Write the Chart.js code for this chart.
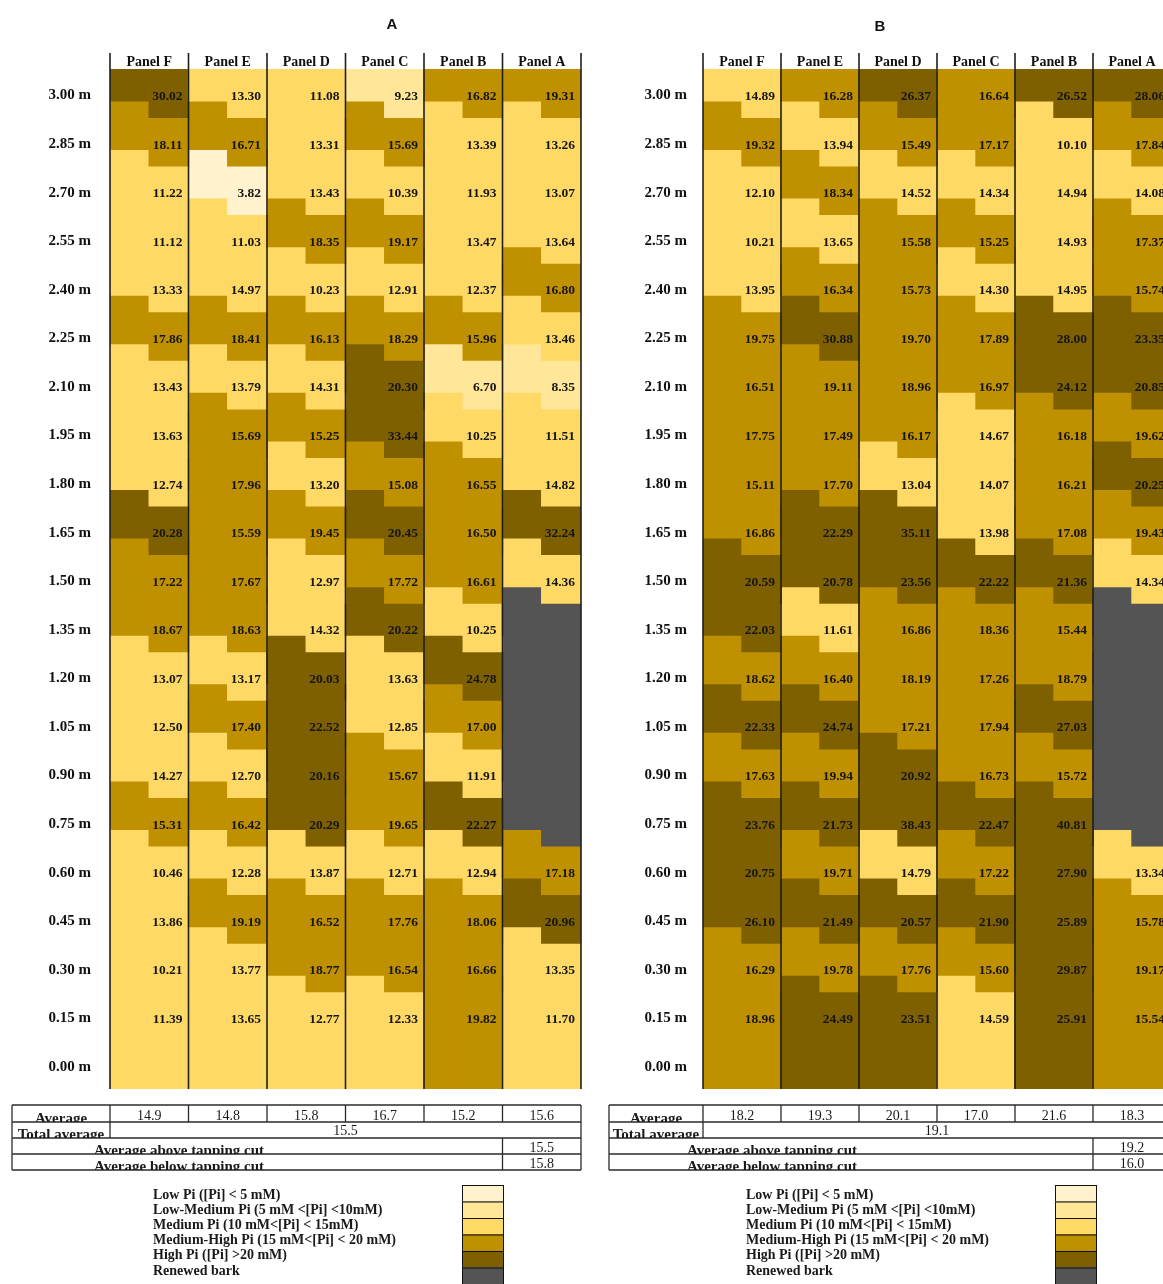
<!DOCTYPE html>
<html><head><meta charset="utf-8">
<script src="https://cdn.jsdelivr.net/npm/chart.js@4/dist/chart.umd.min.js"></script>
<style>
html,body{margin:0;padding:0;background:#fff;overflow:hidden;width:1163px;height:1284px;}
#wrap{position:relative;width:1163px;height:1284px;overflow:hidden;background:#fff;}
.cv{position:absolute;top:0;width:600px;height:1284px;}
</style></head><body>
<div id="wrap">
<div class="cv" style="left:0px"><canvas id="cA" width="600" height="1284"></canvas></div>
<div class="cv" style="left:600px"><canvas id="cB" width="600" height="1284"></canvas></div>
</div>
<script>
// ---------- categories / labels ----------
const panels = ['Panel F','Panel E','Panel D','Panel C','Panel B','Panel A'];
const heights = [3.00,2.85,2.70,2.55,2.40,2.25,2.10,1.95,1.80,1.65,1.50,1.35,1.20,1.05,0.90,0.75,0.60,0.45,0.30,0.15];
const tickHeights = [3.00,2.85,2.70,2.55,2.40,2.25,2.10,1.95,1.80,1.65,1.50,1.35,1.20,1.05,0.90,0.75,0.60,0.45,0.30,0.15,0.00];
const heightLabels = ['3.00 m','2.85 m','2.70 m','2.55 m','2.40 m','2.25 m','2.10 m','1.95 m','1.80 m','1.65 m','1.50 m','1.35 m','1.20 m','1.05 m','0.90 m','0.75 m','0.60 m','0.45 m','0.30 m','0.15 m','0.00 m'];
const legendLabels = ['Low Pi ([Pi] < 5 mM)','Low-Medium Pi (5 mM <[Pi] <10mM)','Medium Pi (10 mM<[Pi] < 15mM)','Medium-High Pi (15 mM<[Pi] < 20 mM)','High Pi ([Pi] >20 mM)','Renewed bark'];
const legendLabelsB = ['Low Pi ([Pi] < 5 mM)','Low-Medium Pi (5 mM <[Pi] <10mM)','Medium Pi (10 mM<[Pi] < 15mM)','Medium-High Pi (15 mM<[Pi] < 20 mM)','High Pi ([Pi] >20 mM)','Renewed bark'];

// ---------- chart A values (top 3.00 m -> bottom 0.15 m), null = renewed bark ----------
const A_panelF = [30.02,18.11,11.22,11.12,13.33,17.86,13.43,13.63,12.74,20.28,17.22,18.67,13.07,12.50,14.27,15.31,10.46,13.86,10.21,11.39];
const A_panelE = [13.30,16.71,3.82,11.03,14.97,18.41,13.79,15.69,17.96,15.59,17.67,18.63,13.17,17.40,12.70,16.42,12.28,19.19,13.77,13.65];
const A_panelD = [11.08,13.31,13.43,18.35,10.23,16.13,14.31,15.25,13.20,19.45,12.97,14.32,20.03,22.52,20.16,20.29,13.87,16.52,18.77,12.77];
const A_panelC = [9.23,15.69,10.39,19.17,12.91,18.29,20.30,33.44,15.08,20.45,17.72,20.22,13.63,12.85,15.67,19.65,12.71,17.76,16.54,12.33];
const A_panelB = [16.82,13.39,11.93,13.47,12.37,15.96,6.70,10.25,16.55,16.50,16.61,10.25,24.78,17.00,11.91,22.27,12.94,18.06,16.66,19.82];
const A_panelA = [19.31,13.26,13.07,13.64,16.80,13.46,8.35,11.51,14.82,32.24,14.36,null,null,null,null,null,17.18,20.96,13.35,11.70];
const A_avg = [14.9,14.8,15.8,16.7,15.2,15.6];
const A_total = 15.5, A_above = 15.5, A_below = 15.8;

// ---------- chart B values ----------
const B_panelF = [14.89,19.32,12.10,10.21,13.95,19.75,16.51,17.75,15.11,16.86,20.59,22.03,18.62,22.33,17.63,23.76,20.75,26.10,16.29,18.96];
const B_panelE = [16.28,13.94,18.34,13.65,16.34,30.88,19.11,17.49,17.70,22.29,20.78,11.61,16.40,24.74,19.94,21.73,19.71,21.49,19.78,24.49];
const B_panelD = [26.37,15.49,14.52,15.58,15.73,19.70,18.96,16.17,13.04,35.11,23.56,16.86,18.19,17.21,20.92,38.43,14.79,20.57,17.76,23.51];
const B_panelC = [16.64,17.17,14.34,15.25,14.30,17.89,16.97,14.67,14.07,13.98,22.22,18.36,17.26,17.94,16.73,22.47,17.22,21.90,15.60,14.59];
const B_panelB = [26.52,10.10,14.94,14.93,14.95,28.00,24.12,16.18,16.21,17.08,21.36,15.44,18.79,27.03,15.72,40.81,27.90,25.89,29.87,25.91];
const B_panelA = [28.06,17.84,14.08,17.37,15.74,23.35,20.85,19.62,20.25,19.43,14.34,null,null,null,null,null,13.34,15.78,19.17,15.54];
const B_avg = [18.2,19.3,20.1,17.0,21.6,18.3];
const B_total = 19.1, B_above = 19.2, B_below = 16.0;

// ---------- styles ----------
const COLORS = ['#FFF2CC','#FFE699','#FFD966','#BF9000','#7F6000','#545454'];
function colorFor(v){
  if (v === null) return COLORS[5];
  if (v < 5) return COLORS[0];
  if (v < 10) return COLORS[1];
  if (v < 15) return COLORS[2];
  if (v < 20) return COLORS[3];
  return COLORS[4];
}
const Y_MIN = -0.068, Y_MAX = 3.082;
const LEFT_OFF = [-0.016, 0.134], RIGHT_OFF = [-0.067, 0.083];
const SERIF = '"Liberation Serif", "Times New Roman", serif';

function buildDatasets(cols){
  return heights.map((h, r) => {
    const last = r === heights.length - 1;
    const data = [], bg = [];
    cols.forEach((col, c) => {
      [LEFT_OFF, RIGHT_OFF].forEach((off, k) => {
        data.push({x: 2*c + k + 0.5, y: [last ? Y_MIN : h + off[0], Math.min(Y_MAX, h + off[1])]});
        bg.push(colorFor(col[r]));
      });
    });
    return {label: heightLabels[r], data, backgroundColor: bg, borderWidth: 0, inflateAmount: 0.7,
            grouped: false, barPercentage: 1, categoryPercentage: 1};
  });
}

function makePlugin(cfg){
  return {
    id: 'decor' + cfg.title,
    afterDatasetsDraw(chart){
      const {ctx, chartArea: a, scales: {x: xs, y: ys}} = chart;
      ctx.save();
      ctx.font = 'bold 13.5px ' + SERIF;
      ctx.fillStyle = '#161616'; ctx.textAlign = 'right'; ctx.textBaseline = 'middle';
      cfg.cols.forEach((col, c) => {
        const xr = xs.getPixelForValue(2*c + 2) - 6;
        col.forEach((v, r) => {
          if (v === null) return;
          ctx.fillText(v.toFixed(2), xr, ys.getPixelForValue(heights[r]) + 1);
        });
      });
      ctx.strokeStyle = '#1e1e1e'; ctx.lineWidth = 1.6;
      for (let i = 0; i <= 6; i++){
        const x = xs.getPixelForValue(2*i);
        ctx.beginPath(); ctx.moveTo(x, a.top - 16); ctx.lineTo(x, a.bottom); ctx.stroke();
      }
      ctx.restore();
    },
    afterDraw(chart){
      const {ctx, scales: {x: xs}} = chart;
      const L = cfg.layout;
      const off = L.canvasLeft;
      ctx.save();
      // title
      ctx.font = 'bold 15px "Liberation Sans", Arial, sans-serif';
      ctx.fillStyle = '#111'; ctx.textAlign = 'center'; ctx.textBaseline = 'middle';
      ctx.fillText(cfg.title, L.titleX - off, L.titleY);

      // table
      const cx = [0,1,2,3,4,5,6].map(i => xs.getPixelForValue(2*i));
      const tl = L.tableLeft - off, tr = cx[6];
      const ry = [1105, 1122, 1138, 1154, 1170];
      ctx.strokeStyle = '#2a2a2a'; ctx.lineWidth = 1.3;
      const line = (x1,y1,x2,y2) => { ctx.beginPath(); ctx.moveTo(x1,y1); ctx.lineTo(x2,y2); ctx.stroke(); };
      ry.forEach(y => line(tl, y, tr, y));
      line(tl, ry[0], tl, ry[4]);
      line(tr, ry[0], tr, ry[4]);
      for (let i = 0; i < 6; i++) line(cx[i], ry[0], cx[i], ry[1]);
      line(cx[0], ry[1], cx[0], ry[2]);
      line(cx[5], ry[2], cx[5], ry[4]);

      const clipText = (txt, x, y, x1, y1, x2, y2) => {
        ctx.save(); ctx.beginPath(); ctx.rect(x1, y1, x2 - x1, y2 - y1); ctx.clip();
        ctx.fillText(txt, x, y); ctx.restore();
      };
      ctx.fillStyle = '#1a1a1a'; ctx.textAlign = 'center'; ctx.textBaseline = 'alphabetic';
      ctx.font = 'bold 15px ' + SERIF;
      clipText('Average', (tl + cx[0]) / 2, ry[1] + 1, tl, ry[0], cx[0], ry[1]);
      clipText('Total average', (tl + cx[0]) / 2, ry[2] + 1, tl, ry[1], cx[0], ry[2]);
      clipText('Average above tapping cut', cx[0] + 69, ry[3] + 1, tl, ry[2], cx[5], ry[3]);
      clipText('Average below tapping cut', cx[0] + 69, ry[4] + 1, tl, ry[3], cx[5], ry[4]);
      ctx.font = '14px ' + SERIF;
      cfg.avg.forEach((v, i) => ctx.fillText(v.toFixed(1), (cx[i] + cx[i+1]) / 2, ry[1] - 2.5));
      ctx.fillText(cfg.total.toFixed(1), (cx[0] + cx[6]) / 2, ry[2] - 3);
      ctx.fillText(cfg.above.toFixed(1), (cx[5] + cx[6]) / 2, ry[3] - 2.5);
      ctx.fillText(cfg.below.toFixed(1), (cx[5] + cx[6]) / 2, ry[4] - 2.5);

      // legend
      const lx = L.chartLeft - off + 43, sx = L.chartLeft - off + 352;
      ctx.font = 'bold 14px ' + SERIF; ctx.textAlign = 'left'; ctx.textBaseline = 'middle';
      cfg.legend.forEach((t, i) => ctx.fillText(t, lx, 1195 + i * 15.2));
      ctx.lineWidth = 1; ctx.strokeStyle = '#111';
      COLORS.forEach((c, i) => {
        const y = 1185 + i * 16.5;
        ctx.fillStyle = c; ctx.fillRect(sx, y, 41, 16.5);
        ctx.strokeRect(sx + 0.5, y + 0.5, 41, 16.5);
      });
      ctx.restore();
    }
  };
}

const CHARTS = [
  {id: 'cA', title: 'A', cols: [A_panelF, A_panelE, A_panelD, A_panelC, A_panelB, A_panelA],
   avg: A_avg, total: A_total, above: A_above, below: A_below, legend: legendLabels,
   layout: {canvasLeft: 0, chartLeft: 110, chartRight: 581, labelPad: 19, tableLeft: 12, titleX: 392, titleY: 25}},
  {id: 'cB', title: 'B', cols: [B_panelF, B_panelE, B_panelD, B_panelC, B_panelB, B_panelA],
   avg: B_avg, total: B_total, above: B_above, below: B_below, legend: legendLabelsB,
   layout: {canvasLeft: 600, chartLeft: 703, chartRight: 1171, labelPad: 16, tableLeft: 609, titleX: 880, titleY: 27}}
];

CHARTS.forEach(cfg => {
  const L = cfg.layout;
  const Y_AXIS_W = 100, X_AXIS_H = 16;
  new Chart(document.getElementById(cfg.id), {
    type: 'bar',
    data: {datasets: buildDatasets(cfg.cols)},
    options: {
      responsive: false, animation: false, devicePixelRatio: 1,
      layout: {padding: {left: L.chartLeft - L.canvasLeft - Y_AXIS_W, right: 600 - (L.chartRight - L.canvasLeft), top: 69 - X_AXIS_H, bottom: 1284 - 1089}},
      plugins: {legend: {display: false}, tooltip: {enabled: false}},
      scales: {
        x: {type: 'linear', position: 'top', min: 0, max: 12, offset: false,
            grid: {display: false, drawTicks: false}, border: {display: false},
            afterBuildTicks: s => { s.ticks = panels.map((p, i) => ({value: 2*i + 1})); },
            afterFit: s => { s.height = X_AXIS_H; },
            ticks: {autoSkip: false, maxRotation: 0, padding: 0, color: '#111',
                    font: {family: SERIF, weight: 'bold', size: 14, lineHeight: 0.9},
                    callback: (v, i) => panels[i]}},
        y: {type: 'linear', min: Y_MIN, max: Y_MAX, stacked: false,
            grid: {display: false, drawTicks: false}, border: {display: false},
            afterBuildTicks: s => { s.ticks = tickHeights.map(v => ({value: v})); },
            afterFit: s => { s.width = Y_AXIS_W; },
            ticks: {autoSkip: false, padding: L.labelPad, color: '#111',
                    font: {family: SERIF, weight: 'bold', size: 15},
                    callback: (v, i) => heightLabels[i]}}
      }
    },
    plugins: [makePlugin(cfg)]
  });
});
</script>
</body></html>
